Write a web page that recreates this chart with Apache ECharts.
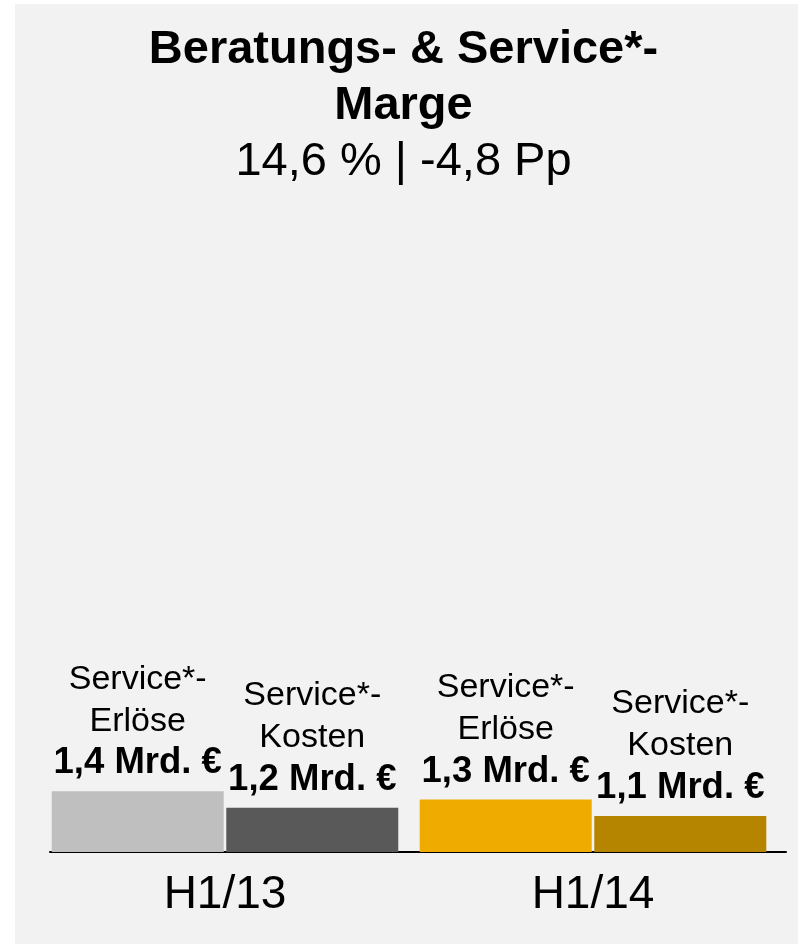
<!DOCTYPE html>
<html>
<head>
<meta charset="utf-8">
<script src="https://cdn.jsdelivr.net/npm/echarts@6/dist/echarts.min.js"></script>
<style>
  html, body { margin: 0; padding: 0; background: #ffffff; }
  #chart { width: 807px; height: 944px; }
</style>
</head>
<body>
<div id="chart"></div>
<script>
// ---- data ----
var categories = ['H1/13', 'H1/14'];
var erloese = [1.4, 1.3];          // Service*-Erlöse, Mrd. €
var kosten = [1.2, 1.1];           // Service*-Kosten, Mrd. €
var erloeseName = 'Service*-\nErlöse';
var kostenName = 'Service*-\nKosten';
var titleText = 'Beratungs- & Service*-\nMarge';
var subText = '14,6 % | -4,8 Pp';

// ---- styles ----
var erloeseColors = ['#bfbfbf', '#f0ab00'];
var kostenColors = ['#595959', '#b58500'];
var FONT = '"Liberation Sans", Arial, sans-serif';

function fmt(v) { return v.toFixed(1).replace('.', ',') + ' Mrd. €'; }
function makeLabel(name) {
  return {
    show: true,
    position: 'top',
    distance: 7,
    formatter: function (p) {
      var lines = name.split('\n').map(function (l) { return '{n|' + l + '}'; });
      return lines.join('\n') + '\n{b|' + fmt(p.value) + '}';
    },
    rich: {
      n: { fontFamily: FONT, fontSize: 34, lineHeight: 42, color: '#000' },
      b: { fontFamily: FONT, fontSize: 36.5, fontWeight: 'bold', lineHeight: 42, color: '#000' }
    }
  };
}

var chart = echarts.init(document.getElementById('chart'), null, { renderer: 'canvas' });
chart.setOption({
  backgroundColor: '#ffffff',
  animation: false,
  graphic: [{
    type: 'rect', z: -10, silent: true,
    shape: { x: 15, y: 4, width: 783, height: 945 },
    style: { fill: '#f2f2f2' }
  }],
  title: {
    text: titleText,
    subtext: subText,
    left: 'center',
    top: 17,
    itemGap: 0,
    textStyle: { fontFamily: FONT, fontSize: 47, fontWeight: 'bold', lineHeight: 56, color: '#000' },
    subtextStyle: { fontFamily: FONT, fontSize: 47, lineHeight: 56, color: '#000' }
  },
  grid: [
    { left: 41, right: 30, top: 660, bottom: 92 },
    { left: 50, right: 21, top: 660, bottom: 92 }
  ],
  xAxis: [{
    type: 'category', gridIndex: 0, data: categories,
    axisLine: { show: false }, axisTick: { show: false },
    axisLabel: { fontFamily: FONT, fontSize: 46, lineHeight: 46, color: '#000', margin: 20 }
  }, {
    type: 'category', gridIndex: 1, data: categories,
    axisLine: { show: true, lineStyle: { color: '#000', width: 2 } },
    axisTick: { show: false }, axisLabel: { show: false }
  }],
  yAxis: [{
    type: 'value', gridIndex: 0, min: 0.66, max: 3.0, show: false, splitLine: { show: false }
  }, {
    type: 'value', gridIndex: 1, min: 0, max: 1, show: false, splitLine: { show: false }
  }],
  series: [{
    type: 'bar', name: 'Erlöse', xAxisIndex: 0, yAxisIndex: 0,
    barWidth: 172, barGap: '1.5%',
    data: erloese.map(function (v, i) { return { value: v, itemStyle: { color: erloeseColors[i] } }; }),
    label: makeLabel(erloeseName)
  }, {
    type: 'bar', name: 'Kosten', xAxisIndex: 0, yAxisIndex: 0,
    barWidth: 172, barGap: '1.5%',
    data: kosten.map(function (v, i) { return { value: v, itemStyle: { color: kostenColors[i] } }; }),
    label: makeLabel(kostenName)
  }]
});
</script>
</body>
</html>
